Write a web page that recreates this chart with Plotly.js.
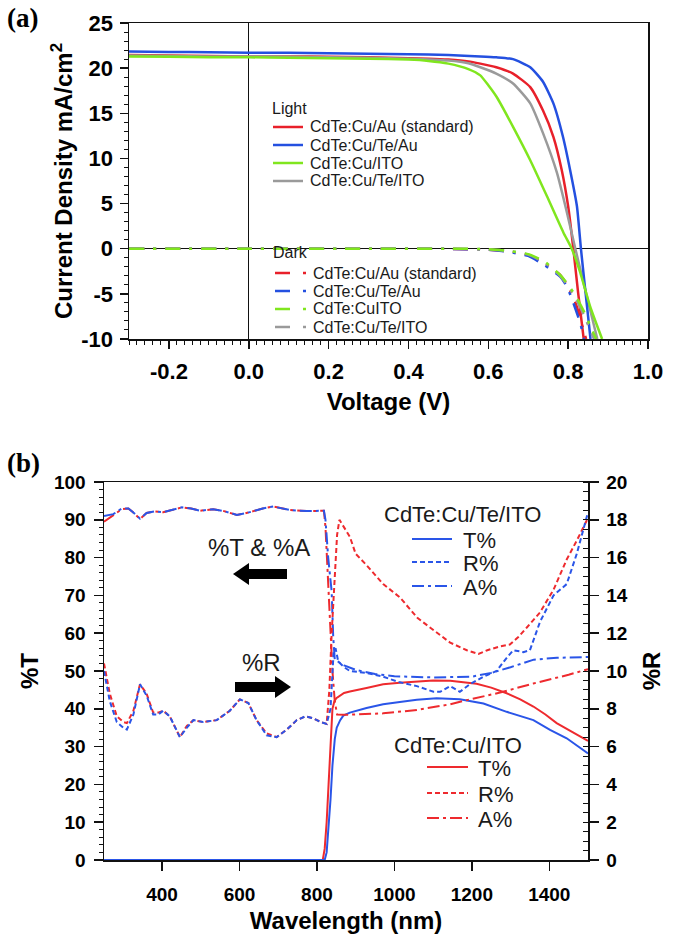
<!DOCTYPE html>
<html><head><meta charset="utf-8">
<script src="https://cdn.plot.ly/plotly-3.0.1.min.js"></script>
<style>html,body{margin:0;padding:0;background:#fff;} #chart{width:689px;height:936px;}</style>
</head><body><div id="chart"></div>
<script>
// ---------------- Panel (a): J-V curves ----------------
const lightNames = ['CdTe:Cu/Au (standard)', 'CdTe:Cu/Te/Au', 'CdTe:Cu/ITO', 'CdTe:Cu/Te/ITO'];
const darkNames  = ['CdTe:Cu/Au (standard)', 'CdTe:Cu/Te/Au', 'CdTe:CuITO', 'CdTe:Cu/Te/ITO'];

const vLightAu   = [-0.3,-0.2,-0.1,0.0,0.1,0.2,0.3,0.4,0.45,0.5,0.55,0.58,0.62,0.662,0.705,0.737,0.763,0.784,0.8,0.813,0.825,0.839];
const jLightAu   = [21.45,21.4,21.35,21.3,21.3,21.25,21.2,21.1,21.05,20.95,20.75,20.5,20.1,19.4,17.9,15.3,12.4,8.7,4.7,0,-4.9,-10];
const vLightTeAu = [-0.3,-0.2,-0.1,0.0,0.1,0.2,0.3,0.4,0.5,0.58,0.62,0.662,0.705,0.737,0.763,0.787,0.805,0.822,0.832,0.842,0.856];
const jLightTeAu = [21.85,21.8,21.75,21.7,21.7,21.65,21.6,21.55,21.45,21.3,21.2,21.0,20.1,18.5,16.1,12.4,8.7,4.7,0,-4.2,-10];
const vLightITO  = [-0.3,-0.2,-0.1,0.0,0.1,0.2,0.3,0.4,0.45,0.5,0.55,0.58,0.6,0.621,0.662,0.705,0.747,0.788,0.809,0.83,0.855,0.885];
const jLightITO  = [21.3,21.25,21.2,21.2,21.15,21.1,21.05,20.95,20.8,20.5,19.9,19.2,18.1,16.8,13.5,9.8,5.8,1.8,0,-2.6,-6.4,-10];
const vLightTeITO= [-0.3,-0.2,-0.1,0.0,0.1,0.2,0.3,0.4,0.5,0.55,0.58,0.62,0.662,0.705,0.737,0.772,0.797,0.818,0.847,0.873];
const jLightTeITO= [21.4,21.35,21.3,21.3,21.25,21.2,21.15,21.05,20.85,20.55,20.1,19.4,18.3,16.1,12.8,8.4,4.0,0,-5.3,-10];

const vDarkAu    = [-0.3,0.0,0.3,0.5,0.6,0.65,0.7,0.74,0.78,0.8,0.82,0.835,0.845];
const jDarkAu    = [0,0,0,-0.02,-0.1,-0.3,-0.7,-1.6,-2.9,-4.2,-6.2,-8.5,-10];
const vDarkTeAu  = [-0.3,0.0,0.3,0.5,0.6,0.65,0.7,0.74,0.78,0.797,0.813,0.83,0.84];
const jDarkTeAu  = [0,0,0,-0.02,-0.1,-0.35,-0.8,-1.8,-3.1,-4.2,-6.0,-8.2,-10];
const vDarkITO   = [-0.3,0.0,0.3,0.5,0.6,0.66,0.7,0.74,0.78,0.8,0.82,0.84,0.86,0.87];
const jDarkITO   = [0,0,0,0,-0.05,-0.3,-0.6,-1.4,-2.9,-4.0,-5.3,-7.0,-9.0,-10];
const vDarkTeITO = [-0.3,0.0,0.3,0.5,0.6,0.66,0.7,0.74,0.78,0.8,0.82,0.84,0.855,0.865];
const jDarkTeITO = [0,0,0,0,-0.05,-0.3,-0.65,-1.5,-3.0,-4.2,-5.6,-7.4,-9.0,-10];

const vTickVals = [-0.2,0.0,0.2,0.4,0.6,0.8,1.0];
const vTickText = ['-0.2','0.0','0.2','0.4','0.6','0.8','1.0'];
const jTickVals = [-10,-5,0,5,10,15,20,25];
const jTickText = ['-10','-5','0','5','10','15','20','25'];

// ---------------- Panel (b): optical spectra ----------------
const groupNames = ['CdTe:Cu/Te/ITO', 'CdTe:Cu/ITO'];
const seriesNames = ['T%', 'R%', 'A%'];

const lamTTeITO = [250,400,600,820,825,830,835,840,846,851,860,868,885,928,971,1014,1058,1109,1169,1230,1290,1359,1402,1445,1500];
const tTeITO    = [0,0,0,0,2,8,16,25,32,35,37,38.2,39,40.2,41.2,41.8,42.4,42.8,42.5,41.4,39.2,37,34.4,32.2,28.2];
const lamTITO   = [250,400,600,815,820,825,830,835,840,845,850,870,885,928,971,1014,1058,1100,1144,1212,1250,1290,1325,1359,1390,1419,1460,1500];
const tITO      = [0,0,0,0,3,10,20,32,40,42,42.8,44.2,44.6,45.5,46.5,46.9,47.3,47.5,47.4,46.6,45.6,44.1,42.5,40.6,38.5,36.2,33.8,31.5];

const lamRTeITO = [250,265,283,300,309,326,343,360,377,390,403,420,446,464,481,506,541,575,601,623,644,670,696,722,748,770,790,810,825,835,843,848,855,870,885,928,971,1014,1058,1101,1118,1144,1169,1195,1230,1264,1290,1307,1333,1350,1376,1411,1445,1471,1500];
const rTeITO    = [10.0,8.4,7.3,7.0,6.9,7.7,9.3,8.7,7.7,7.7,7.9,7.6,6.5,7.0,7.4,7.3,7.4,7.9,8.5,8.3,7.4,6.6,6.5,6.9,7.4,7.6,7.5,7.3,7.2,8.0,11.0,11.2,10.5,10.2,10.0,9.9,9.7,9.4,9.2,8.9,8.9,9.2,8.9,9.3,9.7,10.0,10.7,11.1,11.0,11.1,12.6,14.0,14.6,16.2,18.4];
const lamRITO   = [250,265,283,300,309,326,343,360,377,390,403,420,446,464,481,506,541,575,601,623,644,670,696,722,748,770,790,810,825,832,838,845,852,858,870,885,900,928,971,1014,1060,1100,1144,1187,1217,1240,1273,1298,1320,1342,1376,1411,1445,1471,1500];
const rITO      = [10.4,8.8,7.6,7.3,7.24,7.9,9.3,8.8,7.8,7.8,7.9,7.6,6.5,7.1,7.4,7.3,7.4,7.9,8.5,8.3,7.4,6.7,6.5,6.9,7.4,7.6,7.5,7.3,7.2,9.0,12.0,15.0,17.2,18.0,17.6,17.1,16.2,15.6,14.6,13.9,12.8,12.2,11.5,11.1,10.9,11.1,11.3,11.4,11.8,12.3,13.1,14.3,15.9,16.9,18.1];

const lamATeITO = [250,274,296,313,325,343,360,380,403,430,451,475,498,532,560,593,615,636,660,687,710,730,773,800,818,822,829,838,842,846,855,870,900,950,1000,1100,1200,1250,1300,1360,1420,1500];
const aTeITO    = [91,91.5,93,93,92,90.3,91.8,92.2,92,92.7,93.3,93,92.4,92.8,92.3,91.3,91.7,92.3,93,93.5,93.1,92.6,92.3,92.4,92.4,90,80,71,59,53,52.5,51.5,50.3,49.2,48.6,48.3,48.5,49.5,51,53,53.5,53.7];
const lamAITO   = [250,274,296,313,325,343,360,380,403,430,451,475,498,532,560,593,615,636,660,687,710,730,773,800,818,822,828,834,840,846,852,870,900,971,1058,1144,1187,1273,1359,1402,1450,1500];
const aITO      = [89.5,91.3,92.8,93,92,90.2,91.8,92.2,92,92.7,93.3,93,92.4,92.8,92.3,91.3,91.7,92.3,93,93.5,93.1,92.6,92.3,92.4,92.4,88,75,62,50,42,38.5,38.4,38.5,38.8,39.7,41.2,42.3,44.3,46.7,47.8,49,50.5];

const lamTickVals = [400,600,800,1000,1200,1400];

// ---------------- styling ----------------
const W = 689, H = 936;
const px = x => x / W;
const py = y => 1 - y / H;
const FONT = 'Liberation Sans, Arial, Helvetica, sans-serif';
const SERIF = 'Liberation Serif, Times New Roman, serif';
const INK = '#111';
const cRed = '#e8202a', cBlue = '#2450e0', cGreen = '#80e61e', cGray = '#9a9a9a';
const bRed = '#ee2a2e', bBlue = '#2a55e8';
const darkDash = '15px,9px,3px,9px';
const rDash = '5px,3px';
const aDash = '12px,4px,3px,4px';

function tr(x, y, name, color, dash, width, xa, ya, shape) {
  return {x, y, name, type: 'scatter', mode: 'lines', xaxis: xa, yaxis: ya, showlegend: false,
    line: {color, width, dash: dash || 'solid', shape: shape || 'linear', smoothing: 0.5}, hoverinfo: 'skip'};
}

const traces = [
  tr(vLightAu, jLightAu, lightNames[0], cRed, null, 2.5, 'x', 'y', 'spline'),
  tr(vLightTeITO, jLightTeITO, lightNames[3], cGray, null, 2.5, 'x', 'y', 'spline'),
  tr(vLightTeAu, jLightTeAu, lightNames[1], cBlue, null, 2.5, 'x', 'y', 'spline'),
  tr(vLightITO, jLightITO, lightNames[2], cGreen, null, 2.5, 'x', 'y', 'spline'),
  tr(vDarkAu, jDarkAu, darkNames[0], cRed, darkDash, 2.5, 'x', 'y', 'spline'),
  tr(vDarkTeAu, jDarkTeAu, darkNames[1], cBlue, darkDash, 2.5, 'x', 'y', 'spline'),
  tr(vDarkTeITO, jDarkTeITO, darkNames[3], cGray, darkDash, 2.5, 'x', 'y', 'spline'),
  tr(vDarkITO, jDarkITO, darkNames[2], cGreen, darkDash, 2.5, 'x', 'y', 'spline'),

  tr(lamTITO, tITO, groupNames[1] + ' ' + seriesNames[0], bRed, null, 2, 'x2', 'y3'),
  tr(lamTTeITO, tTeITO, groupNames[0] + ' ' + seriesNames[0], bBlue, null, 2, 'x2', 'y3'),
  tr(lamRITO, rITO, groupNames[1] + ' ' + seriesNames[1], bRed, rDash, 2, 'x2', 'y4'),
  tr(lamRTeITO, rTeITO, groupNames[0] + ' ' + seriesNames[1], bBlue, rDash, 2, 'x2', 'y4'),
  tr(lamAITO, aITO, groupNames[1] + ' ' + seriesNames[2], bRed, aDash, 2, 'x2', 'y3'),
  tr(lamATeITO, aTeITO, groupNames[0] + ' ' + seriesNames[2], bBlue, aDash, 2, 'x2', 'y3')
];

function txt(x, y, text, size, extra) {
  return Object.assign({xref: 'paper', yref: 'paper', x: px(x), y: py(y), text, showarrow: false,
    xanchor: 'left', yanchor: 'middle', font: {family: FONT, size, color: '#1a1a1a'}}, extra || {});
}
function seg(x0, x1, y, color, dash, width) {
  return {type: 'line', xref: 'paper', yref: 'paper', x0: px(x0), x1: px(x1), y0: py(y), y1: py(y),
    line: {color, width, dash: dash || 'solid'}};
}
function poly(pts) {
  return {type: 'path', xref: 'paper', yref: 'paper', fillcolor: '#000', line: {width: 0},
    path: 'M' + pts.map(p => px(p[0]).toFixed(5) + ',' + py(p[1]).toFixed(5)).join('L') + 'Z'};
}

const annotations = [
  txt(5, 18, '<b>(a)</b>', 27, {font: {family: SERIF, size: 27, color: '#000'}}),
  txt(5, 463, '<b>(b)</b>', 27, {font: {family: SERIF, size: 27, color: '#000'}}),
  txt(270, 108, 'Light', 16),
  txt(271, 253, 'Dark', 16),
  txt(382, 514, groupNames[0], 22),
  txt(392, 745, groupNames[1], 22),
  txt(206, 547, '%T &amp; %A', 24),
  txt(240, 662, '%R', 24)
];
const lightY = [127, 145, 163, 181];
const darkY = [273, 291, 309, 327];
const lightCol = [cRed, cBlue, cGreen, cGray];
const shapes = [];
lightNames.forEach((n, i) => {
  annotations.push(txt(308, lightY[i], n, 16));
  shapes.push(seg(273, 303, lightY[i], lightCol[i], null, 2.5));
});
darkNames.forEach((n, i) => {
  annotations.push(txt(311, darkY[i], n, 16));
  shapes.push(seg(275, 306, darkY[i], lightCol[i], '15px,13px,3px,20px', 2.5));
});
const bDashes = [null, rDash, aDash];
const blueY = [540, 563, 587], redY = [768, 794, 819];
seriesNames.forEach((n, i) => {
  annotations.push(txt(461, blueY[i], n, 22));
  shapes.push(seg(412, 452, blueY[i] - 1, bBlue, bDashes[i], 2));
  annotations.push(txt(476, redY[i], n, 22));
  shapes.push(seg(427, 468, redY[i] - 1, bRed, bDashes[i], 2));
});
// arrows
shapes.push(poly([[233,574],[249,563],[249,569],[287,569],[287,579],[249,579],[249,585]]));
shapes.push(poly([[291,687],[275,676],[275,682],[235,682],[235,692],[275,692],[275,698]]));

const tickFontA = {family: FONT, size: 22, color: '#000', weight: 'bold'};
const tickFontB = {family: FONT, size: 19, color: '#000', weight: 'bold'};
const titleFont = {family: FONT, size: 24, color: '#000', weight: 'bold'};

const layout = {
  width: W, height: H, margin: {l: 0, r: 0, t: 0, b: 0},
  paper_bgcolor: '#fff', plot_bgcolor: '#fff', showlegend: false,
  font: {family: FONT, color: INK},
  xaxis: {domain: [px(129), px(648)], range: [-0.3, 1.0], anchor: 'y',
    tickmode: 'array', tickvals: vTickVals, ticktext: vTickText,
    ticks: 'outside', ticklen: 8, tickwidth: 1.5, tickcolor: INK,
    minor: {tickmode: 'linear', tick0: 0, dtick: 0.02, ticks: 'outside', ticklen: 4, tickwidth: 1, tickcolor: INK},
    showline: true, linecolor: INK, linewidth: 1.5, mirror: true, showgrid: false,
    zeroline: true, zerolinecolor: INK, zerolinewidth: 1.3,
    tickfont: tickFontA, ticklabelstandoff: 4,
    title: {text: 'Voltage (V)', font: titleFont, standoff: 10}},
  yaxis: {domain: [py(339), py(23)], range: [-10, 25], anchor: 'x',
    tickmode: 'array', tickvals: jTickVals, ticktext: jTickText,
    ticks: 'outside', ticklen: 8, tickwidth: 1.5, tickcolor: INK,
    minor: {tickmode: 'linear', tick0: 0, dtick: 1, ticks: 'outside', ticklen: 4, tickwidth: 1, tickcolor: INK},
    showline: true, linecolor: INK, linewidth: 1.5, mirror: true, showgrid: false,
    zeroline: true, zerolinecolor: INK, zerolinewidth: 1.3,
    tickfont: tickFontA, ticklabelstandoff: 2,
    title: {text: 'Current Density mA/cm<sup>2</sup>', font: titleFont, standoff: 2}},
  xaxis2: {domain: [px(104), px(588)], range: [250, 1500], anchor: 'y3',
    tickmode: 'array', tickvals: lamTickVals,
    ticks: 'outside', ticklen: 9, tickwidth: 1.5, tickcolor: INK,
    showline: true, linecolor: INK, linewidth: 1.5, mirror: true, showgrid: false, zeroline: false,
    tickfont: tickFontB, ticklabelstandoff: 8,
    title: {text: 'Wavelength (nm)', font: titleFont, standoff: 8}},
  yaxis3: {domain: [py(860), py(482)], range: [0, 100], anchor: 'x2',
    tickmode: 'linear', tick0: 0, dtick: 10,
    ticks: 'outside', ticklen: 9, tickwidth: 1.5, tickcolor: INK,
    minor: {tickmode: 'linear', tick0: 0, dtick: 2, ticks: 'outside', ticklen: 4, tickwidth: 1, tickcolor: INK},
    showline: true, linecolor: INK, linewidth: 1.5, mirror: false, showgrid: false, zeroline: false,
    tickfont: tickFontB, ticklabelstandoff: 4,
    title: {text: '%T', font: titleFont, standoff: 8}},
  yaxis4: {overlaying: 'y3', side: 'right', anchor: 'x2', range: [0, 20],
    tickmode: 'linear', tick0: 0, dtick: 2,
    ticks: 'outside', ticklen: 9, tickwidth: 1.5, tickcolor: INK,
    minor: {tickmode: 'linear', tick0: 0, dtick: 0.5, ticks: 'inside', ticklen: 5, tickwidth: 1, tickcolor: INK},
    showline: true, linecolor: INK, linewidth: 1.5, showgrid: false, zeroline: false,
    tickfont: tickFontB, ticklabelstandoff: 4,
    title: {text: '%R', font: titleFont, standoff: 16}},
  annotations, shapes
};

Plotly.newPlot('chart', traces, layout, {staticPlot: true, displayModeBar: false});
</script></body></html>
